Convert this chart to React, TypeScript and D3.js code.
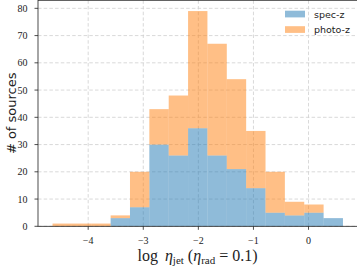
import React from "react";
import * as d3 from "d3";

const binStart = -4.647;
const binEnd = 0.625;
const binCount = 15;
const specZ = [0, 0, 0, 3, 7, 30, 26, 36, 26, 21, 14, 5, 4, 5, 3];
const photoZ = [1, 1, 1, 1, 13, 13, 22, 43, 41, 33, 21, 15, 5, 3, 0];
const xTicks = [-4, -3, -2, -1, 0];
const yTicks = [0, 10, 20, 30, 40, 50, 60, 70, 80];
const seriesNames = ["spec-z", "photo-z"];
const seriesColors = ["#1f77b4", "#ff7f0e"];

export default function App() {
  const W = 357, H = 266;
  const m = { left: 38, top: 0.3, right: 357.5, bottom: 226.3 };
  const x = d3.scaleLinear().domain([-4.911, 0.889]).range([m.left, m.right]);
  const y = d3.scaleLinear().domain([0, 82.95]).range([m.bottom, m.top]);
  const bw = (binEnd - binStart) / binCount;
  const edges = d3.range(binCount + 1).map((i) => binStart + i * bw);
  const fmt = (v: number) => (v < 0 ? "\u2212" + Math.abs(v) : String(v));
  const serif = "'Liberation Serif', 'DejaVu Serif', serif";
  const sans = "'DejaVu Sans', sans-serif";
  return (
    <svg width={W} height={H} style={{ position: "absolute", left: 0, top: 0, background: "#fff" }}>
      <g>
        {xTicks.map((t) => (
          <line key={"gx" + t} x1={x(t)} x2={x(t)} y1={m.top} y2={m.bottom} stroke="#cfcfcf" strokeWidth={0.8} strokeDasharray="3.5,2.2" />
        ))}
        {yTicks.map((t) => (
          <line key={"gy" + t} x1={m.left} x2={m.right} y1={y(t)} y2={y(t)} stroke="#cfcfcf" strokeWidth={0.8} strokeDasharray="3.5,2.2" />
        ))}
      </g>
      <g>
        {specZ.map((v, i) => (
          <rect key={"s" + i} x={x(edges[i])} width={x(edges[i + 1]) - x(edges[i])} y={y(v)} height={y(0) - y(v)} fill={seriesColors[0]} fillOpacity={0.5} />
        ))}
        {photoZ.map((v, i) => (
          <rect key={"p" + i} x={x(edges[i])} width={x(edges[i + 1]) - x(edges[i])} y={y(specZ[i] + v)} height={y(specZ[i]) - y(specZ[i] + v)} fill={seriesColors[1]} fillOpacity={0.5} />
        ))}
      </g>
      <rect x={m.left} y={m.top} width={m.right - m.left} height={m.bottom - m.top} fill="none" stroke="#222" strokeWidth={0.8} />
      <g fontFamily={serif} fontSize={10} fill="#222">
        {xTicks.map((t) => (
          <g key={"xt" + t}>
            <line x1={x(t)} x2={x(t)} y1={m.bottom} y2={m.bottom + 3.5} stroke="#222" strokeWidth={0.8} />
            <text x={x(t)} y={243.5} textAnchor="middle">{fmt(t)}</text>
          </g>
        ))}
        {yTicks.map((t) => (
          <g key={"yt" + t}>
            <line x1={m.left - 3.5} x2={m.left} y1={y(t)} y2={y(t)} stroke="#222" strokeWidth={0.8} />
            <text x={27.5} y={y(t) + 3.5} textAnchor="end">{t}</text>
          </g>
        ))}
      </g>
      <text transform={`translate(16,${(m.top + m.bottom) / 2}) rotate(-90)`} textAnchor="middle" fontFamily={sans} fontSize={13} fill="#222">
        # of sources
      </text>
      <text x={197.5} y={260.5} textAnchor="middle" fontFamily={serif} fontSize={16} fill="#222">
        <tspan>log</tspan>
        <tspan dx={7} fontStyle="italic">η</tspan>
        <tspan fontSize={11} dy={3}>jet</tspan>
        <tspan dy={-3} dx={4}>(</tspan>
        <tspan fontStyle="italic">η</tspan>
        <tspan fontSize={11} dy={3}>rad</tspan>
        <tspan dy={-3} dx={4}>=</tspan>
        <tspan dx={4}>0.1)</tspan>
      </text>
      <g fontFamily={sans} fontSize={9.5} fill="#222">
        {seriesNames.map((n, i) => (
          <g key={n}>
            <rect x={285} y={10.7 + i * 15.5} width={20} height={6.7} fill={seriesColors[i]} fillOpacity={0.5} />
            <text x={314} y={17.5 + i * 15.5}>{n}</text>
          </g>
        ))}
      </g>
    </svg>
  );
}
